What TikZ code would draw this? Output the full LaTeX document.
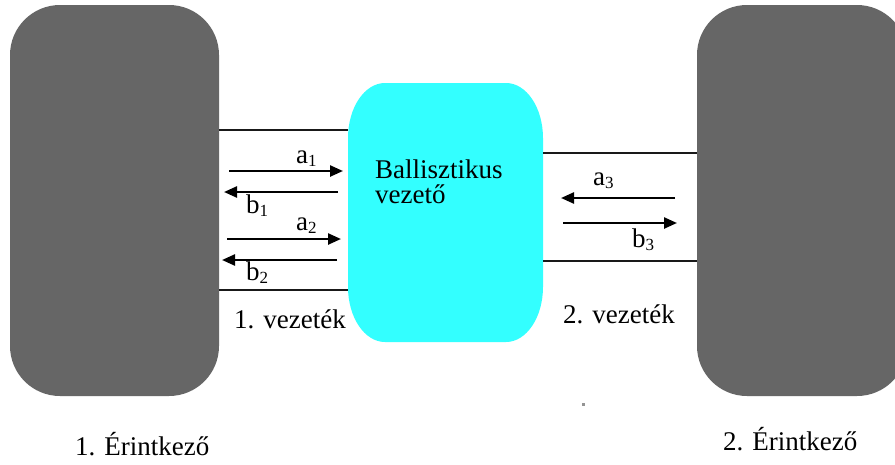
\documentclass[tikz,border=0pt]{standalone}
\usepackage{fontspec}
\setmainfont{Liberation Serif}
\usetikzlibrary{arrows.meta}
\definecolor{contactgray}{RGB}{102,102,102}
\definecolor{condcyan}{RGB}{51,255,255}
\tikzset{
  contact/.style={fill=contactgray, draw=none, rounded corners=50pt},
  wire/.style={line width=2pt, draw=black!90},
  wave/.style={line width=2.4pt, -{Triangle[length=13pt,width=11pt]}},
  bigtext/.style={font=\fontsize{27}{31}\selectfont, inner sep=0pt, anchor=base west},
  wavelabel/.style={font=\fontsize{27}{30}\selectfont, inner sep=0pt, anchor=base west}
}
\newcommand{\subidx}[1]{\raisebox{-3pt}{\fontsize{17}{17}\selectfont #1}}
\begin{document}
\begin{tikzpicture}[x=1pt,y=-1pt]
\useasboundingbox (0,0) rectangle (895,464);
\clip (0,0) rectangle (895,464);
\fill[white] (0,0) rectangle (895,464);
% contacts
\fill[contact] (10,5) rectangle (219,396);
\fill[contact] (697,5) rectangle (907,396);
% ballistic conductor
\fill[condcyan] (348,138) -- (348,287) .. controls (348,317.4) and (364.6,342) .. (385,342)
  -- (506,342) .. controls (526.4,342) and (543,317.4) .. (543,287)
  -- (543,138) .. controls (543,107.6) and (526.4,83) .. (506,83)
  -- (385,83) .. controls (364.6,83) and (348,107.6) .. (348,138) -- cycle;
% named coordinates
\coordinate (l1a) at (219,130); \coordinate (l1b) at (348,130);
\coordinate (l2a) at (219,290); \coordinate (l2b) at (348,290);
\coordinate (r1a) at (543,153); \coordinate (r1b) at (697,153);
\coordinate (r2a) at (543,261); \coordinate (r2b) at (697,261);
\coordinate (a1s) at (229,171); \coordinate (a1e) at (343,171);
\coordinate (b1s) at (338,192); \coordinate (b1e) at (224,192);
\coordinate (a2s) at (227,239); \coordinate (a2e) at (341,239);
\coordinate (b2s) at (337,260); \coordinate (b2e) at (222,260);
\coordinate (a3s) at (675,198); \coordinate (a3e) at (561,198);
\coordinate (b3s) at (563,223); \coordinate (b3e) at (677,223);
% wires
\draw[wire] (l1a) -- (l1b);
\draw[wire] (l2a) -- (l2b);
\draw[wire] (r1a) -- (r1b);
\draw[wire] (r2a) -- (r2b);
% waves
\draw[wave] (a1s) -- (a1e);
\draw[wave] (b1s) -- (b1e);
\draw[wave] (a2s) -- (a2e);
\draw[wave] (b2s) -- (b2e);
\draw[wave] (a3s) -- (a3e);
\draw[wave] (b3s) -- (b3e);
% labels
\node[wavelabel] (la1) at (296,163) {a\subidx{1}};
\node[wavelabel] (lb1) at (246,213) {b\subidx{1}};
\node[wavelabel] (la2) at (296,230) {a\subidx{2}};
\node[wavelabel] (lb2) at (246,280) {b\subidx{2}};
\node[wavelabel] (la3) at (593,185) {a\subidx{3}};
\node[wavelabel] (lb3) at (632,247) {b\subidx{3}};
\node[bigtext] (ball) at (375,178) {Ballisztikus};
\node[bigtext] (vez) at (375,203) {vezető};
\node[bigtext] (v1) at (234,328) {1. vezeték};
\node[bigtext] (v2) at (563,323) {2. vezeték};
\node[bigtext] (c1) at (75,455) {1. Érintkező};
\node[bigtext] (c2) at (723,450) {2. Érintkező};
% stray dot
\fill[contactgray!70] (582,403) rectangle (585,406);
\end{tikzpicture}
\end{document}
